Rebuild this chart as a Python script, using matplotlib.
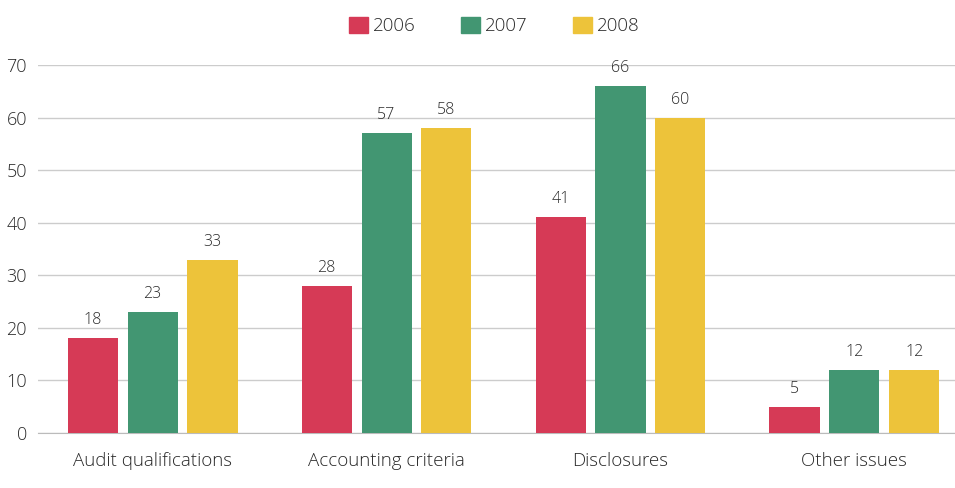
import matplotlib
matplotlib.use("Agg")
import matplotlib.pyplot as plt
import numpy as np
from matplotlib.patches import Patch

categories = ["Audit qualifications", "Accounting criteria", "Disclosures", "Other issues"]
years = ["2006", "2007", "2008"]
values_2006 = [18, 28, 41, 5]
values_2007 = [23, 57, 66, 12]
values_2008 = [33, 58, 60, 12]
colors = ["#D63A56", "#429672", "#EDC33A"]

plt.rcParams["font.family"] = ["Open Sans", "DejaVu Sans"]
plt.rcParams["font.weight"] = "light"
text_color = "#2a2a2a"

fig = plt.figure(figsize=(9.55, 4.88), dpi=100)
ax = fig.add_axes([38 / 955, 55 / 488, 917 / 955, 368 / 488])

x = np.arange(len(categories))
width = 0.214
offset = 0.256
series = [values_2006, values_2007, values_2008]
for i, (vals, col) in enumerate(zip(series, colors)):
    pos = x + (i - 1) * offset
    ax.bar(pos, vals, width=width, color=col, zorder=3)
    for xb, v in zip(pos, vals):
        ax.text(xb, v + 1.9, str(v), ha="center", va="bottom", fontsize=11.5,
                color=text_color, fontweight="light")

ax.set_ylim(0, 70)
ax.set_xlim(-0.49, 3.43)
ax.set_yticks(range(0, 71, 10))
ax.yaxis.grid(True, color="#cccccc", linewidth=1, zorder=0)
ax.set_xticks(x)
ax.set_xticklabels(categories, fontsize=13.5, color=text_color, fontweight="light")
for lbl in ax.get_yticklabels():
    lbl.set_fontweight("light")
ax.tick_params(axis="y", labelsize=13, colors=text_color, length=0, pad=8)
ax.tick_params(axis="x", length=0, pad=14)
for s in ["top", "right", "left"]:
    ax.spines[s].set_visible(False)
ax.spines["bottom"].set_color("#bbbbbb")

handles = [Patch(color=c) for c in colors]
fig.legend(handles, years, loc="center", bbox_to_anchor=(0.5 + 17 / 955, 1 - 26 / 488), ncol=3,
           frameon=False, prop={"size": 13.5, "weight": "light"}, handlelength=1.0,
           handleheight=1.0, handletextpad=0.3, columnspacing=2.4, labelcolor=text_color)

fig.savefig("out.png", dpi=100)
